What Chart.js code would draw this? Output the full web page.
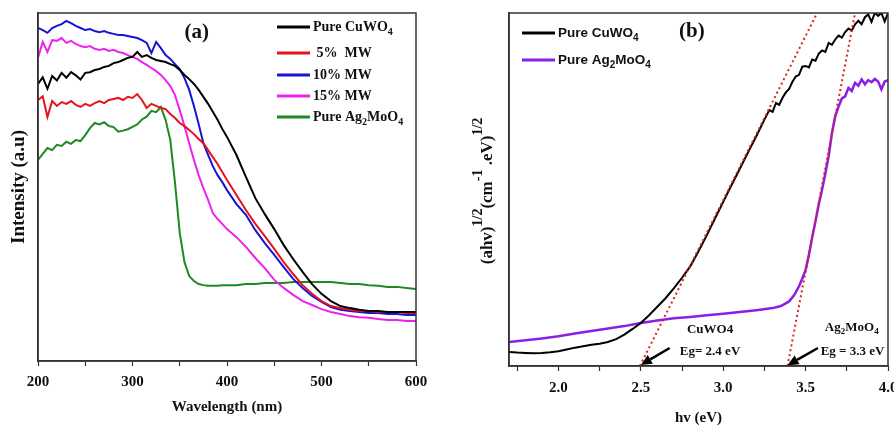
<!DOCTYPE html>
<html>
<head>
<meta charset="utf-8">
<script src="https://cdn.jsdelivr.net/npm/chart.js@4.4.1/dist/chart.umd.min.js"></script>
<style>
  html, body { margin: 0; padding: 0; background: #fff; overflow: hidden; }
  #boxA { position: absolute; left: 0; top: 0; width: 440px; height: 427px; }
  #boxB { position: absolute; left: 440px; top: 0; width: 470px; height: 427px; }
</style>
</head>
<body>
<div id="boxA"><canvas id="chartA" width="440" height="427"></canvas></div>
<div id="boxB"><canvas id="chartB" width="470" height="427"></canvas></div>
<script>
// ---- panel (a): UV-vis spectra (arbitrary units 0-100)
var wavelength = [200,205,210,215,220,225,230,235,240,245,250,255,260,265,270,275,280,285,290,295,
  300,305,310,315,320,325,330,335,340,345,350,355,360,365,370,375,380,385,390,395,
  400,410,420,430,440,450,460,470,480,490,500,510,520,530,540,550,560,570,580,590,600];

var pureCuWO4 = [79.6,81.5,78.2,81.9,80.6,82.8,81.4,83.0,82.1,80.9,82.8,83.0,83.6,83.9,84.5,84.8,85.6,85.9,86.5,87.1,
  87.4,88.8,87.4,87.9,87.1,86.5,86.2,85.9,85.3,84.8,83.6,82.2,81.0,79.6,77.9,75.9,73.9,71.6,69.3,66.7,
  64.4,59.2,52.9,46.8,42.2,37.9,33.3,29.3,25.6,22.1,19.3,17.2,15.8,15.2,14.7,14.4,14.4,14.1,14.1,14.1,14.1];

var mw5 = [75.0,76.1,70.1,74.7,73.3,74.4,73.9,74.7,73.6,73.0,73.9,73.3,74.1,74.7,74.1,75.0,75.3,75.6,75.0,75.9,
  75.6,76.7,75.0,72.7,73.9,73.3,72.7,72.4,71.0,69.8,68.4,67.5,66.4,65.2,63.8,62.6,60.6,58.6,56.6,54.3,
  52.0,47.7,43.4,39.4,35.9,32.2,28.4,25.0,21.8,19.3,17.2,15.8,15.2,14.7,14.4,14.4,14.1,14.1,14.1,13.8,13.8];

var mw10 = [95.7,95.1,94.3,95.7,96.3,96.8,97.7,97.1,96.3,95.7,95.1,95.4,94.8,94.5,94.8,94.3,94.0,93.7,93.7,93.4,
  93.1,92.8,92.2,91.4,88.5,91.7,89.9,87.9,86.8,85.3,83.9,81.3,77.9,73.3,68.1,62.6,59.2,56.0,53.4,51.4,
  49.1,45.1,42.0,37.6,33.9,30.5,27.0,23.6,21.0,18.7,17.0,15.5,14.7,14.4,14.1,13.8,13.8,13.5,13.5,13.2,13.2];

var mw15 = [87.1,91.7,88.8,92.2,92.0,92.8,91.4,92.0,91.1,90.5,90.2,90.5,89.7,89.4,89.7,89.1,89.4,88.8,88.5,87.9,
  87.4,86.8,85.9,85.1,84.2,83.3,82.2,80.7,79.0,76.4,72.1,67.5,62.6,57.8,53.4,49.7,46.3,42.5,40.8,39.4,
  37.9,35.6,32.8,29.6,26.7,23.3,21.0,19.0,17.2,16.1,14.9,14.1,13.5,12.9,12.6,12.4,12.1,11.8,11.8,11.5,11.5];

var pureAg2MoO4 = [57.8,59.5,61.2,60.6,62.1,61.8,63.0,62.4,63.5,63.2,64.9,66.9,68.4,68.0,68.6,67.5,67.2,65.9,66.2,66.6,
  67.3,68.0,69.4,70.2,71.9,71.5,73.0,69.3,63.5,51.1,36.8,28.4,24.4,23.0,22.1,21.8,21.6,21.6,21.6,21.8,
  21.8,21.8,22.1,22.1,22.4,22.4,22.4,22.7,22.7,22.7,22.7,22.7,22.4,22.1,22.1,21.8,21.6,21.3,21.3,21.0,20.7];

// ---- panel (b): Tauc plot
var cuEnergy = [1.70,1.75,1.80,1.85,1.90,1.95,2.00,2.05,2.10,2.15,2.20,2.25,2.30,2.35,2.40,2.45,2.50,2.55,2.60,2.65,
  2.70,2.75,2.80,2.85,2.90,2.95,3.00,3.05,3.10,3.15,3.20,3.25,
  3.28,3.30,3.32,3.34,3.36,3.38,3.40,3.42,3.44,3.46,3.48,3.50,3.52,3.54,3.56,3.58,3.60,3.62,3.64,3.66,
  3.68,3.70,3.72,3.74,3.76,3.78,3.80,3.82,3.84,3.86,3.88,3.90,3.92,3.94,3.96,3.98,4.00];
var cuTauc = [4.0,3.8,3.7,3.6,3.7,3.9,4.2,4.7,5.2,5.6,6.0,6.3,6.8,7.6,8.9,10.5,12.2,14.4,16.8,19.2,
  22.0,25.0,28.2,32.5,37.0,41.8,46.5,51.2,55.8,60.5,65.0,69.8,
  72.5,72.0,74.5,74.0,76.0,77.5,78.5,80.5,82.0,82.5,84.8,85.0,84.6,86.8,86.5,88.5,89.4,89.0,91.5,91.0,
  92.5,93.6,93.0,94.6,95.6,95.0,96.8,97.8,96.8,98.8,99.6,97.5,100,99.2,100,97.6,100];

var agEnergy = [1.70,1.80,1.90,2.00,2.10,2.20,2.30,2.40,2.50,2.60,2.70,2.80,2.90,3.00,3.10,3.20,3.30,
  3.35,3.40,3.43,3.46,3.48,
  3.50,3.52,3.54,3.56,3.58,3.60,3.62,3.64,3.66,3.68,3.70,3.72,3.74,3.76,3.78,3.80,3.82,3.84,3.86,3.88,
  3.90,3.92,3.94,3.96,3.98,4.00];
var agTauc = [6.8,7.3,7.8,8.4,9.2,9.9,10.6,11.3,12.2,12.9,13.5,13.9,14.4,14.8,15.3,15.8,16.4,
  17.0,18.3,20.0,22.6,24.8,
  27.2,31.5,36.5,41.0,45.8,50.0,54.5,59.5,66.0,70.8,73.5,75.8,76.4,78.8,77.9,80.2,79.4,81.2,79.8,81.0,
  80.4,81.3,80.6,78.4,80.6,81.0];

// tangent (extrapolation) lines
var fitCuEnergy = [2.494, 3.57];
var fitCuTauc = [0, 100];
var fitAgEnergy = [3.39, 3.80];
var fitAgTauc = [0, 100];

function pts(xs, ys) {
  return xs.map(function(v, i) { return {x: v, y: ys[i]}; });
}

var serifFam = '"Liberation Serif", "Times New Roman", serif';
var sansFam = '"Liberation Sans", Arial, sans-serif';
function serifBold(size) { return 'bold ' + size + 'px ' + serifFam; }
function sansFont(size) { return 'bold ' + size + 'px ' + sansFam; }

// "_x" -> subscript char, "^{..}" -> superscript
function richParts(str, font, smallFont, subDy, supDy) {
  var parts = [], buf = '', i = 0;
  while (i < str.length) {
    var c = str[i];
    if (c === '_') {
      if (buf) { parts.push({t: buf, font: font, dy: 0}); buf = ''; }
      parts.push({t: str[i + 1], font: smallFont, dy: subDy});
      i += 2;
    } else if (c === '^' && str[i + 1] === '{') {
      if (buf) { parts.push({t: buf, font: font, dy: 0}); buf = ''; }
      var end = str.indexOf('}', i);
      parts.push({t: str.slice(i + 2, end), font: smallFont, dy: supDy});
      i = end + 1;
    } else {
      buf += c; i++;
    }
  }
  if (buf) parts.push({t: buf, font: font, dy: 0});
  return parts;
}

function drawRich(ctx, parts, x, y, align) {
  var total = 0;
  parts.forEach(function(p) { ctx.font = p.font; total += ctx.measureText(p.t).width; });
  var cx = align === 'center' ? x - total / 2 : x;
  ctx.textAlign = 'left';
  ctx.textBaseline = 'middle';
  parts.forEach(function(p) {
    ctx.font = p.font;
    ctx.fillText(p.t, cx, y + p.dy);
    cx += ctx.measureText(p.t).width;
  });
}

function drawArrow(ctx, x1, y1, x2, y2) {
  var ang = Math.atan2(y2 - y1, x2 - x1), head = 11, half = 5;
  var bx = x2 - head * Math.cos(ang), by = y2 - head * Math.sin(ang);
  ctx.beginPath(); ctx.moveTo(x1, y1); ctx.lineTo(bx, by);
  ctx.lineWidth = 2.5; ctx.stroke();
  ctx.beginPath(); ctx.moveTo(x2, y2);
  ctx.lineTo(bx + half * Math.sin(ang), by - half * Math.cos(ang));
  ctx.lineTo(bx - half * Math.sin(ang), by + half * Math.cos(ang));
  ctx.closePath(); ctx.fill();
}

function drawFrame(chart) {
  var a = chart.chartArea, ctx = chart.ctx;
  ctx.strokeStyle = '#333';
  ctx.lineWidth = 1.5;
  ctx.strokeRect(a.left, a.top, a.right - a.left, a.bottom - a.top);
}

// legend drawn by hand so the formulas can have subscripts
function drawLegend(chart, x0, rows, lineLen, font, smallFont) {
  var ctx = chart.ctx, a = chart.chartArea, r = 0;
  chart.data.datasets.forEach(function(ds) {
    if (ds.fit) return;
    var y = a.top + rows[r++];
    ctx.strokeStyle = ds.borderColor;
    ctx.lineWidth = 3;
    ctx.beginPath(); ctx.moveTo(a.left + x0, y); ctx.lineTo(a.left + x0 + lineLen, y); ctx.stroke();
    ctx.fillStyle = '#111';
    drawRich(ctx, richParts(ds.label, font, smallFont, 5, -6), a.left + x0 + lineLen + 3, y, 'left');
  });
}

var panelA = {
  id: 'panelA',
  afterDraw: function(chart) {
    var ctx = chart.ctx, xs = chart.scales.x, ys = chart.scales.y;
    ctx.save();
    drawFrame(chart);
    ctx.fillStyle = '#111';
    drawRich(ctx, [{t: '(a)', font: serifBold(21), dy: 0}], xs.getPixelForValue(368), ys.getPixelForValue(94.5), 'center');
    drawLegend(chart, 239, [14, 40, 62, 83, 104], 33, serifBold(14), serifBold(10));
    ctx.restore();
  }
};

var panelB = {
  id: 'panelB',
  afterDraw: function(chart) {
    var ctx = chart.ctx, xs = chart.scales.x, ys = chart.scales.y, a = chart.chartArea;
    ctx.save();
    drawFrame(chart);
    ctx.fillStyle = '#111';
    drawRich(ctx, [{t: '(b)', font: serifBold(21), dy: 0}], xs.getPixelForValue(2.81), ys.getPixelForValue(94.6), 'center');
    drawLegend(chart, 13, [20, 47], 33, sansFont(13.5), sansFont(10));

    // band gap notes
    var f = serifBold(13), fs = serifBold(9);
    drawRich(ctx, richParts('CuWO4', f, fs, 4, -5), xs.getPixelForValue(2.92), ys.getPixelForValue(10.2), 'center');
    drawRich(ctx, richParts('Eg= 2.4 eV', f, fs, 4, -5), xs.getPixelForValue(2.92), ys.getPixelForValue(4.0), 'center');
    drawRich(ctx, richParts('Ag_2MoO_4', f, fs, 4, -5), xs.getPixelForValue(3.78), ys.getPixelForValue(10.8), 'center');
    drawRich(ctx, richParts('Eg = 3.3 eV', f, fs, 4, -5), xs.getPixelForValue(3.785), ys.getPixelForValue(4.0), 'center');
    ctx.strokeStyle = '#000'; ctx.fillStyle = '#000';
    drawArrow(ctx, xs.getPixelForValue(2.675), ys.getPixelForValue(5.1), xs.getPixelForValue(2.50), ys.getPixelForValue(0.3));
    drawArrow(ctx, xs.getPixelForValue(3.575), ys.getPixelForValue(5.1), xs.getPixelForValue(3.39), ys.getPixelForValue(0.2));

    // y title with superscripts, rotated
    ctx.fillStyle = '#111';
    ctx.translate(a.left - 21, 191);
    ctx.rotate(-Math.PI / 2);
    drawRich(ctx, richParts('(ahv)^{1/2}(cm^{-1} .eV)^{1/2}', serifBold(17), serifBold(14), 0, -10), 0, 0, 'center');
    ctx.restore();
  }
};

function xAxis(min, max, step, height, labelPad, title, titlePadBottom, labelFn) {
  return {
    type: 'linear', min: min, max: max,
    afterFit: function(s) { s.height = height; },
    border: { display: true, color: '#333', width: 1.5 },
    grid: { drawOnChartArea: false, drawTicks: true, tickLength: 5, color: '#333', tickWidth: 1.2 },
    ticks: { stepSize: step, includeBounds: false, autoSkip: false, maxRotation: 0, padding: labelPad,
      color: '#111', font: { family: serifFam, size: 15, weight: 'bold' }, callback: labelFn },
    title: { display: true, text: title, color: '#111', padding: { top: 2, bottom: titlePadBottom },
      font: { family: serifFam, size: 15, weight: 'bold' } }
  };
}

var chartA = new Chart(document.getElementById('chartA').getContext('2d'), {
  type: 'scatter',
  data: {
    datasets: [
      { label: 'Pure CuWO_4', data: pts(wavelength, pureCuWO4), borderColor: '#000000', order: 1 },
      { label: ' 5%  MW', data: pts(wavelength, mw5), borderColor: '#e8121a', order: 2 },
      { label: '10% MW', data: pts(wavelength, mw10), borderColor: '#1515d6', order: 3 },
      { label: '15% MW', data: pts(wavelength, mw15), borderColor: '#ee22ee', order: 4 },
      { label: 'Pure Ag_2MoO_4', data: pts(wavelength, pureAg2MoO4), borderColor: '#1f8a1f', order: 5 }
    ]
  },
  options: {
    responsive: false, animation: false, devicePixelRatio: 1, events: [],
    showLine: true,
    elements: { point: { radius: 0 }, line: { borderWidth: 2, tension: 0 } },
    layout: { padding: { left: 0, top: 13, right: 24, bottom: 7 } },
    plugins: { legend: { display: false }, tooltip: { enabled: false } },
    scales: {
      x: xAxis(200, 600, 50, 59, 7, 'Wavelength (nm)', 4, function(v) { return v % 100 === 0 ? v : ''; }),
      y: {
        min: 0, max: 100,
        afterFit: function(s) { s.width = 38; },
        border: { display: true, color: '#333', width: 1.5 },
        grid: { display: false },
        ticks: { display: false },
        title: { display: true, text: 'Intensity (a.u)', color: '#111', padding: { top: 8, bottom: 0 },
          font: { family: serifFam, size: 19, weight: 'bold' } }
      }
    }
  },
  plugins: [panelA]
});

var chartB = new Chart(document.getElementById('chartB').getContext('2d'), {
  type: 'scatter',
  data: {
    datasets: [
      { label: 'Pure CuWO_4', data: pts(cuEnergy, cuTauc), borderColor: '#000000', order: 2 },
      { label: 'Pure Ag_2MoO_4', data: pts(agEnergy, agTauc), borderColor: '#8a1ee6', borderWidth: 2.5, order: 3 },
      { label: 'fit1', fit: true, data: pts(fitCuEnergy, fitCuTauc), borderColor: '#e02020', borderDash: [2, 3], borderWidth: 2, order: 0 },
      { label: 'fit2', fit: true, data: pts(fitAgEnergy, fitAgTauc), borderColor: '#e02020', borderDash: [2, 3], borderWidth: 2, order: 0 }
    ]
  },
  options: {
    responsive: false, animation: false, devicePixelRatio: 1, events: [],
    showLine: true,
    elements: { point: { radius: 0 }, line: { borderWidth: 2, tension: 0 } },
    layout: { padding: { left: 0, top: 13, right: 22, bottom: 0 } },
    plugins: { legend: { display: false }, tooltip: { enabled: false } },
    scales: {
      x: xAxis(1.7, 4.0, 0.25, 61, 8, 'hv (eV)', 0, function(v) {
        return Math.abs(v * 2 - Math.round(v * 2)) < 1e-6 ? v.toFixed(1) : '';
      }),
      y: {
        min: 0, max: 100,
        afterFit: function(s) { s.width = 69; },
        border: { display: true, color: '#333', width: 1.5 },
        grid: { display: false },
        ticks: { display: false }
      }
    }
  },
  plugins: [panelB]
});
</script>
</body>
</html>
